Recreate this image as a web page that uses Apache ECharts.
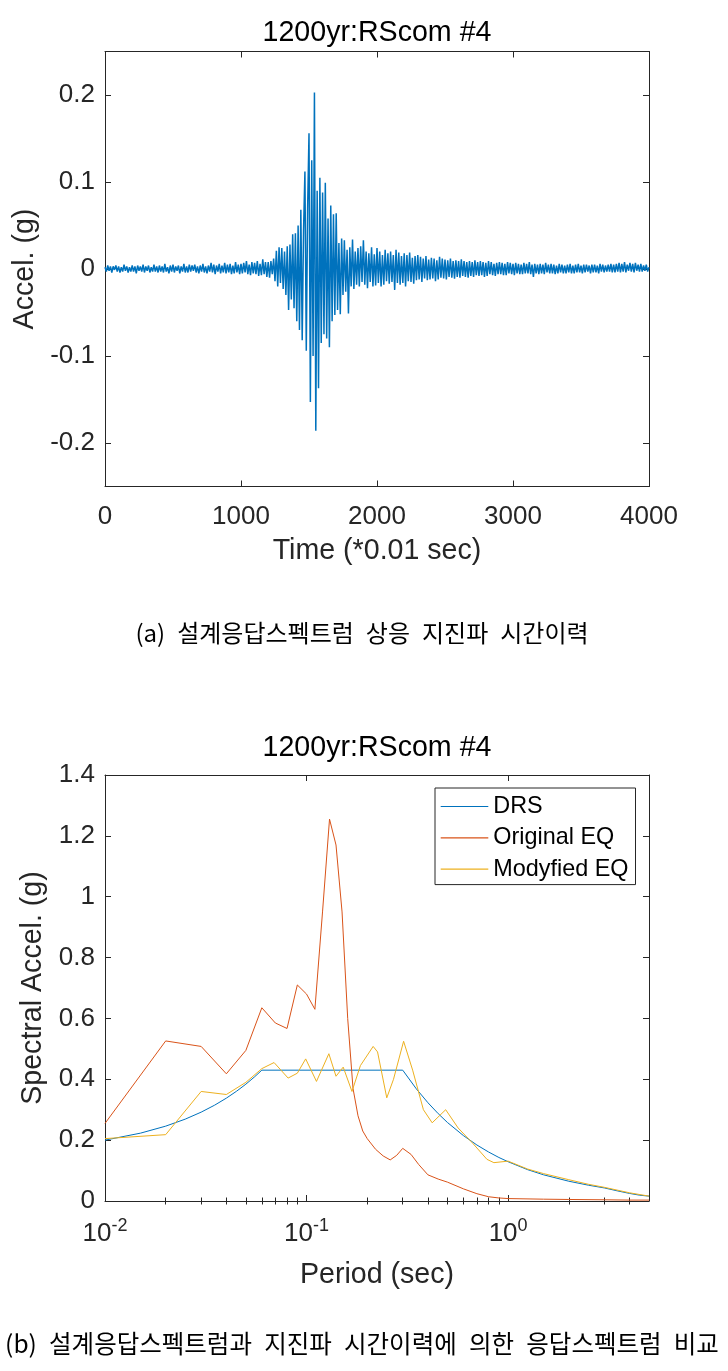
<!DOCTYPE html>
<html><head><meta charset="utf-8">
<script src="https://cdn.jsdelivr.net/npm/echarts@6/dist/echarts.min.js"></script>
<style>html,body{margin:0;padding:0;background:#fff}#c{width:728px;height:1371px}</style>
</head><body><div id="c"></div>
<script>
// ---------------- text ----------------
const chartTitle = '1200yr:RScom #4';
const captionA = '(a) 설계응답스펙트럼 상응 지진파 시간이력';
const captionB = '(b) 설계응답스펙트럼과 지진파 시간이력에 의한 응답스펙트럼 비교';
const seriesNames = ['DRS', 'Original EQ', 'Modyfied EQ'];

// ---------------- (a) time history: one value every 10 samples (*0.01 s) ----------------
const timeStep = 10;
const accel = [
 0.002,-0.003,0.004,-0.002,0.003,-0.004,0.003,-0.001,0.004,-0.003,
 0.003,-0.004,0.002,-0.003,0.005,-0.002,0.003,-0.004,0.002,-0.003,
 0.004,-0.003,0.003,-0.005,0.004,-0.002,0.003,-0.003,0.005,-0.004,
 0.003,-0.002,0.004,-0.004,0.002,-0.003,0.005,-0.003,0.003,-0.004,
 0.004,-0.003,0.003,-0.004,0.006,-0.003,0.002,-0.005,0.004,-0.003,
 0.005,-0.004,0.003,-0.002,0.004,-0.005,0.003,-0.003,0.006,-0.004,
 0.003,-0.004,0.005,-0.003,0.004,-0.002,0.005,-0.004,0.003,-0.005,
 0.004,-0.003,0.006,-0.004,0.003,-0.005,0.004,-0.003,0.007,-0.004,
 0.005,-0.006,0.004,-0.003,0.006,-0.005,0.004,-0.004,0.007,-0.005,
 0.005,-0.004,0.006,-0.006,0.004,-0.005,0.008,-0.004,0.005,-0.006,
 0.006,-0.005,0.007,-0.004,0.009,-0.006,0.005,-0.007,0.008,-0.005,
 0.007,-0.006,0.009,-0.008,0.006,-0.007,0.011,-0.006,0.008,-0.009,
 0.008,-0.010,0.009,-0.006,0.012,-0.014,0.021,-0.020,0.025,-0.016,
 0.024,-0.023,0.020,-0.030,0.026,-0.047,0.028,-0.035,0.040,-0.045,
 0.041,-0.060,0.050,-0.070,0.068,-0.082,0.045,0.112,-0.094,0.070,
 0.156,-0.153,0.125,-0.100,0.203,-0.186,0.090,-0.137,0.105,-0.085,
 0.088,-0.075,0.099,-0.080,0.058,-0.090,0.073,-0.060,0.063,-0.053,
 0.064,-0.047,0.030,-0.052,0.035,-0.030,0.033,-0.026,0.022,-0.051,
 0.025,-0.020,0.034,-0.023,0.020,-0.018,0.024,-0.020,0.026,-0.015,
 0.033,-0.018,0.020,-0.022,0.018,-0.015,0.025,-0.020,0.017,-0.019,
 0.024,-0.016,0.020,-0.020,0.016,-0.018,0.022,-0.014,0.018,-0.017,
 0.020,-0.015,0.016,-0.024,0.022,-0.016,0.019,-0.018,0.015,-0.016,
 0.018,-0.020,0.016,-0.014,0.019,-0.015,0.013,-0.017,0.015,-0.013,
 0.016,-0.012,0.014,-0.015,0.012,-0.011,0.015,-0.013,0.011,-0.012,
 0.013,-0.011,0.012,-0.014,0.010,-0.012,0.014,-0.010,0.012,-0.011,
 0.011,-0.012,0.010,-0.009,0.012,-0.010,0.009,-0.011,0.010,-0.009,
 0.009,-0.010,0.011,-0.008,0.009,-0.009,0.008,-0.010,0.009,-0.008,
 0.008,-0.009,0.010,-0.007,0.008,-0.008,0.009,-0.007,0.008,-0.009,
 0.007,-0.008,0.009,-0.006,0.008,-0.007,0.006,-0.008,0.007,-0.006,
 0.008,-0.006,0.007,-0.007,0.006,-0.007,0.008,-0.005,0.007,-0.006,
 0.006,-0.007,0.007,-0.005,0.006,-0.006,0.005,-0.006,0.007,-0.005,
 0.006,-0.005,0.008,-0.006,0.005,-0.009,0.006,-0.005,0.005,-0.006,
 0.006,-0.005,0.005,-0.006,0.007,-0.004,0.005,-0.005,0.006,-0.005,
 0.005,-0.006,0.004,-0.005,0.006,-0.004,0.005,-0.005,0.004,-0.005,
 0.005,-0.004,0.006,-0.005,0.004,-0.005,0.005,-0.004,0.006,-0.004,
 0.004,-0.005,0.005,-0.004,0.005,-0.003,0.004,-0.005,0.005,-0.004,
 0.005,-0.004,0.004,-0.005,0.006,-0.003,0.005,-0.004,0.004,-0.003,
 0.005,-0.003,0.006,-0.004,0.005,-0.004,0.006,-0.003,0.007,-0.004,
 0.006,-0.003,0.008,-0.004,0.005,-0.002,0.007,-0.003,0.006,-0.004,
 0.007,-0.002,0.005,-0.003,0.006,-0.003,0.004,-0.002,0.005,-0.003,0.002
];
const accelTicks = [-0.2, -0.1, 0, 0.1, 0.2];

// ---------------- (b) response spectra ----------------
const drsPeriods = [0.01,0.015,0.02,0.025,0.03,0.035,0.04,0.045,0.05,0.055,0.06,0.3,0.35,0.4,0.45,0.5,0.6,0.7,0.8,0.9,1,1.25,1.5,2,2.5,3,3.5,4,4.5,5];
const drsValues  = [0.2,0.223,0.246,0.269,0.292,0.315,0.338,0.361,0.384,0.407,0.43,0.43,0.369,0.323,0.287,0.258,0.215,0.184,0.161,0.143,0.129,0.103,0.086,0.065,0.052,0.043,0.033,0.025,0.019,0.016];

const origPeriods = [0.01,0.02,0.03,0.04,0.05,0.06,0.07,0.08,0.09,0.1,0.11,0.12,0.13,0.14,0.15,0.16,0.17,0.18,0.19,0.2,0.22,0.24,0.26,0.28,0.3,0.33,0.36,0.4,0.45,0.5,0.6,0.7,0.8,0.9,1,1.5,2,3,4,5];
const origValues  = [0.255,0.526,0.508,0.418,0.495,0.635,0.585,0.567,0.71,0.68,0.63,0.95,1.255,1.17,0.95,0.6,0.37,0.28,0.23,0.205,0.17,0.148,0.135,0.15,0.173,0.153,0.12,0.086,0.072,0.062,0.04,0.024,0.014,0.01,0.008,0.006,0.005,0.004,0.003,0.003];

const modPeriods = [0.01,0.02,0.03,0.04,0.05,0.06,0.069,0.081,0.09,0.099,0.112,0.129,0.14,0.152,0.168,0.185,0.214,0.225,0.25,0.27,0.303,0.336,0.38,0.42,0.49,0.565,0.667,0.785,0.85,1,1.25,1.5,2,2.5,3,4,5];
const modValues  = [0.205,0.218,0.36,0.35,0.39,0.435,0.455,0.404,0.42,0.467,0.393,0.484,0.41,0.44,0.36,0.445,0.508,0.49,0.339,0.40,0.525,0.43,0.30,0.257,0.30,0.24,0.19,0.137,0.126,0.131,0.105,0.09,0.07,0.055,0.045,0.027,0.016];

const periodMajorTicks = [0.01, 0.1, 1];
const periodMinorTicks = [0.02,0.03,0.04,0.05,0.06,0.07,0.08,0.09,0.2,0.3,0.4,0.5,0.6,0.7,0.8,0.9,2,3,4];

// ---------------- styling ----------------
const FONT = '"Liberation Sans", Arial, Helvetica, sans-serif';
const KFONT = '"Noto Sans CJK KR", sans-serif';
const AX = '#262626';
const COLORS = ['#0072BD', '#D95319', '#EDB120'];
const TICK_FS = 26, LABEL_FS = 28.6, LEGEND_FS = 23.4;

const pairs = (xs, ys) => xs.map((x, i) => [x, ys[i]]);
const lineAx = { show: true, onZero: false, lineStyle: { color: AX, width: 1 } };
const tickIn = (len, extra) => Object.assign({ show: true, inside: true, length: len, lineStyle: { color: AX, width: 1 } }, extra || {});
const noLabel = { show: false };
const noSplit = { show: false };

const chart = echarts.init(document.getElementById('c'), null, { renderer: 'canvas' });

const option = {
  animation: false,
  backgroundColor: '#fff',
  textStyle: { fontFamily: FONT },
  title: [
    { text: chartTitle, left: 377, top: 18.5, textAlign: 'center', padding: 0,
      textStyle: { fontFamily: FONT, fontSize: LABEL_FS, fontWeight: 'normal', color: '#000' } },
    { text: chartTitle, left: 377, top: 734, textAlign: 'center', padding: 0,
      textStyle: { fontFamily: FONT, fontSize: LABEL_FS, fontWeight: 'normal', color: '#000' } }
  ],
  graphic: [
    { type: 'text', x: 362, y: 633, silent: true,
      style: { text: captionA.replace(/ /g, '\u2002'), font: '24px ' + KFONT, fill: '#000', align: 'center', verticalAlign: 'middle' } },
    { type: 'text', x: 362, y: 1344, silent: true,
      style: { text: captionB.replace(/ /g, '\u2002'), font: '24.5px ' + KFONT, fill: '#000', align: 'center', verticalAlign: 'middle' } }
  ],
  grid: [
    { left: 105, top: 51.5, width: 544, height: 435 },
    { left: 105, top: 775, width: 544, height: 426 }
  ],
  legend: {
    data: seriesNames, orient: 'vertical', left: 435, top: 788,
    icon: 'rect', itemWidth: 47.6, itemHeight: 1.2,
    padding: [7, 7, 4, 5.7], itemGap: 8.3,
    borderColor: AX, borderWidth: 1, backgroundColor: '#fff',
    textStyle: { fontFamily: FONT, fontSize: LEGEND_FS, color: '#000' }
  },
  xAxis: [
    { gridIndex: 0, type: 'value', min: 0, max: 4000, interval: 1000, position: 'bottom',
      axisLine: lineAx, axisTick: tickIn(6), splitLine: noSplit,
      axisLabel: { fontFamily: FONT, fontSize: TICK_FS, color: AX, margin: 17.5, formatter: v => String(v) },
      name: 'Time (*0.01 sec)', nameLocation: 'middle', nameGap: 50,
      nameTextStyle: { fontFamily: FONT, fontSize: LABEL_FS, color: AX } },
    { gridIndex: 0, type: 'value', min: 0, max: 4000, interval: 1000, position: 'top',
      axisLine: lineAx, axisTick: tickIn(6), splitLine: noSplit, axisLabel: noLabel },
    { gridIndex: 1, type: 'log', logBase: 10, min: 0.01, max: 5, position: 'bottom',
      axisLine: lineAx, axisTick: tickIn(6, { customValues: periodMajorTicks }), splitLine: noSplit, minorTick: { show: false },
      axisLabel: { customValues: periodMajorTicks, margin: 16,
        formatter: v => '{b|10}{s|' + Math.round(Math.log10(v)) + '}',
        rich: {
          b: { fontFamily: FONT, fontSize: TICK_FS, color: AX, lineHeight: 30, verticalAlign: 'bottom' },
          s: { fontFamily: FONT, fontSize: 18, color: AX, lineHeight: 16, verticalAlign: 'top' }
        } },
      name: 'Period (sec)', nameLocation: 'middle', nameGap: 60,
      nameTextStyle: { fontFamily: FONT, fontSize: LABEL_FS, color: AX } },
    { gridIndex: 1, type: 'log', logBase: 10, min: 0.01, max: 5, position: 'bottom',
      axisLine: { show: false }, axisTick: tickIn(3.5, { customValues: periodMinorTicks }), splitLine: noSplit, axisLabel: noLabel },
    { gridIndex: 1, type: 'log', logBase: 10, min: 0.01, max: 5, position: 'top',
      axisLine: lineAx, axisTick: tickIn(6, { customValues: periodMajorTicks }), splitLine: noSplit, axisLabel: noLabel },
    { gridIndex: 1, type: 'log', logBase: 10, min: 0.01, max: 5, position: 'top',
      axisLine: { show: false }, axisTick: tickIn(3.5, { customValues: periodMinorTicks }), splitLine: noSplit, axisLabel: noLabel }
  ],
  yAxis: [
    { gridIndex: 0, type: 'value', min: -0.25, max: 0.25, position: 'left',
      axisLine: lineAx, axisTick: tickIn(6, { customValues: accelTicks }), splitLine: noSplit,
      axisLabel: { customValues: accelTicks, fontFamily: FONT, fontSize: TICK_FS, color: AX, margin: 10 },
      name: 'Accel. (g)', nameLocation: 'middle', nameGap: 54,
      nameTextStyle: { fontFamily: FONT, fontSize: LABEL_FS, color: AX } },
    { gridIndex: 0, type: 'value', min: -0.25, max: 0.25, position: 'right',
      axisLine: lineAx, axisTick: tickIn(6, { customValues: accelTicks }), splitLine: noSplit, axisLabel: noLabel },
    { gridIndex: 1, type: 'value', min: 0, max: 1.4, interval: 0.2, position: 'left',
      axisLine: lineAx, axisTick: tickIn(6), splitLine: noSplit,
      axisLabel: { fontFamily: FONT, fontSize: TICK_FS, color: AX, margin: 10 },
      name: 'Spectral Accel. (g)', nameLocation: 'middle', nameGap: 55,
      nameTextStyle: { fontFamily: FONT, fontSize: LABEL_FS, color: AX } },
    { gridIndex: 1, type: 'value', min: 0, max: 1.4, interval: 0.2, position: 'right',
      axisLine: lineAx, axisTick: tickIn(6), splitLine: noSplit, axisLabel: noLabel }
  ],
  series: [
    { type: 'line', xAxisIndex: 0, yAxisIndex: 0, symbol: 'none', silent: true,
      data: accel.map((v, i) => [i * timeStep, v]),
      lineStyle: { color: COLORS[0], width: 1.5 }, itemStyle: { color: COLORS[0] } },
    { name: seriesNames[0], type: 'line', xAxisIndex: 2, yAxisIndex: 2, symbol: 'none', silent: true,
      data: pairs(drsPeriods, drsValues), z: 3,
      lineStyle: { color: COLORS[0], width: 1 }, itemStyle: { color: COLORS[0] } },
    { name: seriesNames[1], type: 'line', xAxisIndex: 2, yAxisIndex: 2, symbol: 'none', silent: true,
      data: pairs(origPeriods, origValues), z: 4,
      lineStyle: { color: COLORS[1], width: 1 }, itemStyle: { color: COLORS[1] } },
    { name: seriesNames[2], type: 'line', xAxisIndex: 2, yAxisIndex: 2, symbol: 'none', silent: true,
      data: pairs(modPeriods, modValues), z: 5,
      lineStyle: { color: COLORS[2], width: 1 }, itemStyle: { color: COLORS[2] } }
  ]
};
chart.setOption(option);
</script>
</body></html>
